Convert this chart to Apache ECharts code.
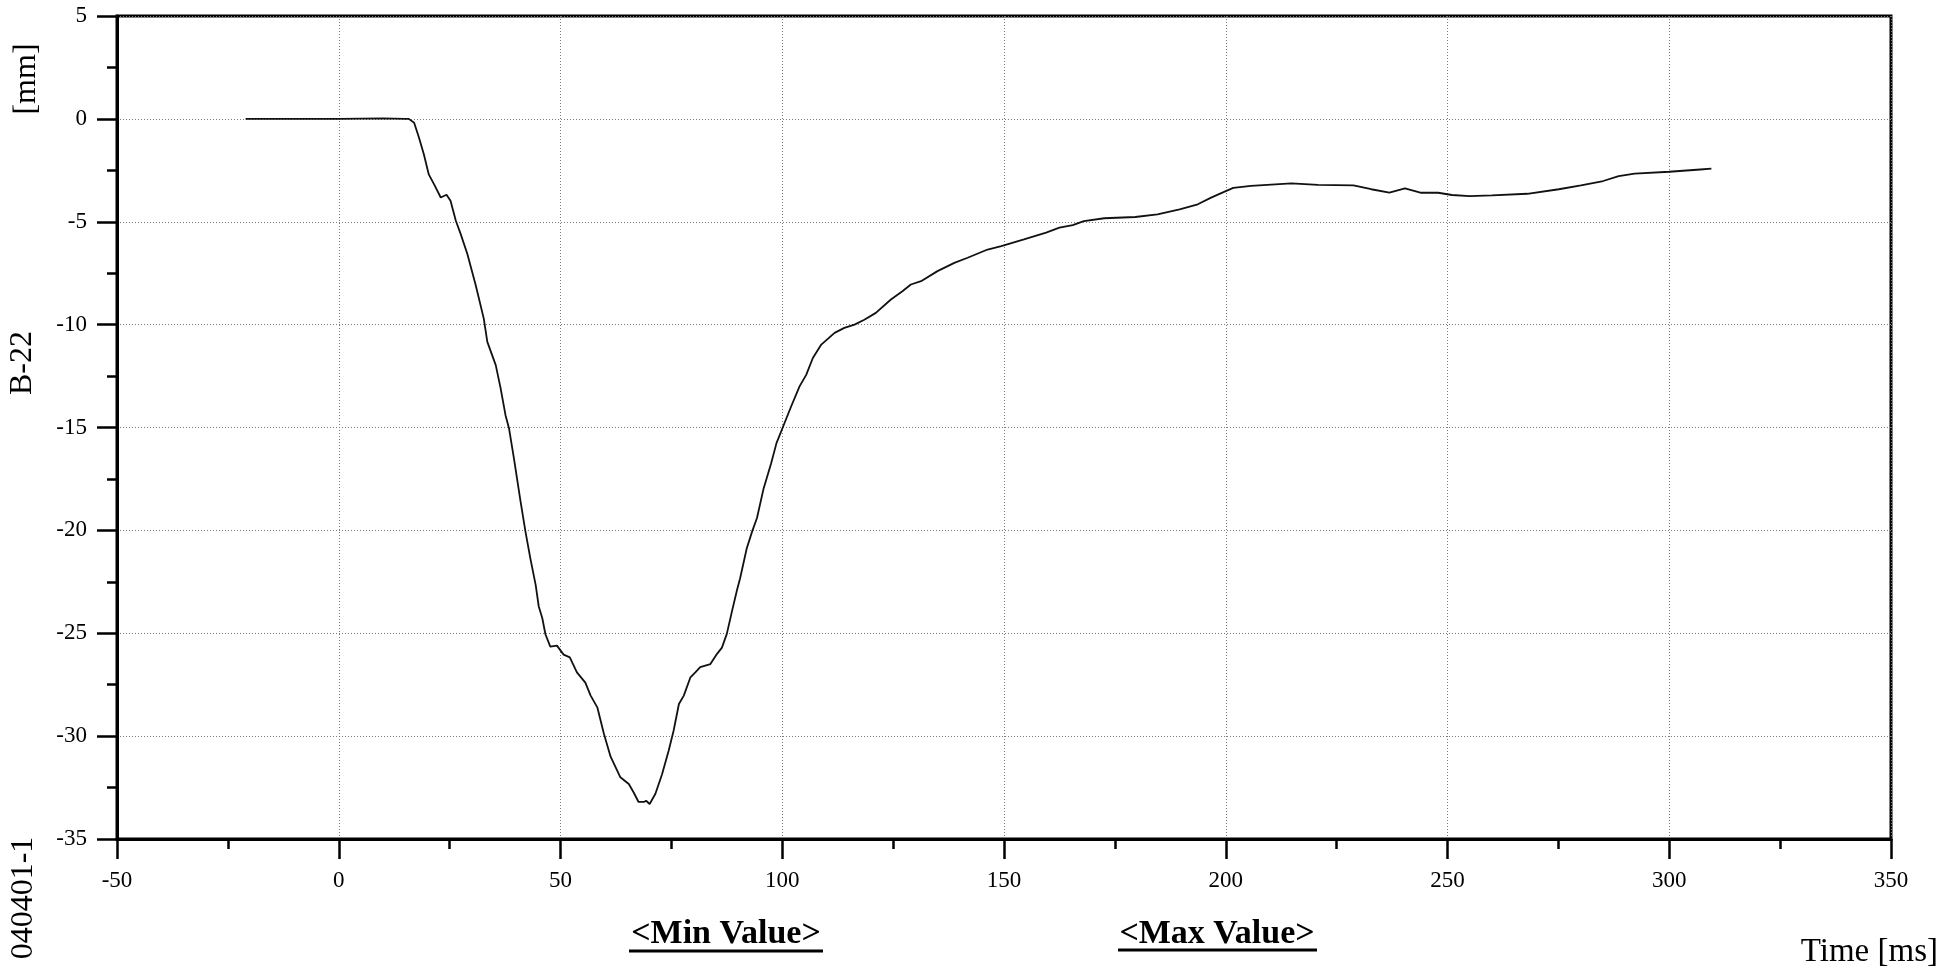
<!DOCTYPE html>
<html>
<head>
<meta charset="utf-8">
<script src="https://cdn.jsdelivr.net/npm/echarts@6/dist/echarts.min.js"></script>
<style>
html,body{margin:0;padding:0;background:#fff;}
#chart{width:1942px;height:969px;}
</style>
</head>
<body>
<div id="chart"></div>
<script>
// Time [ms]
const times = [-21, -10, 0, 10, 15, 15.8, 17.0, 18.1, 19.2, 20.3, 21.5, 23.0, 24.3, 25.2, 26.4, 27.5, 29.0, 30.9,
  32.7, 33.5, 35.4, 36.5, 37.6, 38.4, 39.5, 41.0, 42.1, 43.2, 44.4, 45.1, 45.9, 46.6, 47.7, 49.2, 50.7, 52.1,
  53.7, 55.6, 56.8, 58.3, 59.8, 61.3, 63.5, 65.4, 66.5, 67.6, 68.8, 69.3, 70.1, 71.4, 72.9, 74.4, 75.5, 76.7,
  77.8, 79.3, 80.4, 81.5, 83.8, 85.3, 86.4, 87.5, 88.7, 89.8, 90.5, 92.0, 93.2, 94.3, 95.8, 97.5, 98.7, 100.2,
  102.0, 103.9, 105.4, 106.9, 108.8, 111.8, 114.0, 116.3, 118.5, 121.1, 124.5, 127.1, 129.0, 131.3, 135.0,
  138.8, 141.8, 146.3, 149.4, 154.5, 159.5, 162.5, 165.5, 168.0, 172.6, 179.6, 184.6, 189.6, 193.7, 196.7,
  200.0, 201.7, 205.7, 214.8, 220.8, 228.8, 232.8, 236.9, 240.4, 243.9, 247.9, 251.0, 255.0, 260.0, 268.0,
  275.1, 280.1, 285.1, 288.6, 292.2, 300.0, 307.0, 309.5];
// Displacement [mm]
const values = [0, 0, 0, 0.02, 0, 0, -0.19, -0.92, -1.73, -2.7, -3.18, -3.82, -3.69, -3.98, -4.95, -5.6, -6.57, -8.1,
  -9.71, -10.84, -11.97, -13.1, -14.4, -15.05, -16.5, -18.6, -20.06, -21.36, -22.65, -23.7, -24.27, -25.05, -25.65, -25.6, -26.04, -26.17,
  -26.9, -27.4, -28.03, -28.6, -29.9, -31.0, -32.0, -32.33, -32.74, -33.2, -33.2, -33.14, -33.3, -32.8, -31.85, -30.7, -29.74, -28.44,
  -28.03, -27.14, -26.9, -26.65, -26.5, -26.0, -25.7, -25.03, -23.9, -22.9, -22.33, -20.87, -20.06, -19.4, -17.96, -16.74, -15.76, -14.95,
  -13.98, -13.0, -12.44, -11.62, -10.97, -10.4, -10.16, -10.0, -9.76, -9.43, -8.78, -8.38, -8.05, -7.89, -7.4,
  -7.0, -6.75, -6.35, -6.18, -5.86, -5.53, -5.29, -5.16, -4.97, -4.83, -4.77, -4.64, -4.40, -4.15, -3.83,
  -3.51, -3.35, -3.26, -3.13, -3.21, -3.23, -3.42, -3.59, -3.38, -3.59, -3.59, -3.7, -3.75, -3.72, -3.64,
  -3.42, -3.23, -3.02, -2.78, -2.66, -2.57, -2.46, -2.42];

const xRange = [-50, 350, 50];
const yRange = [-35, 5, 5];
const yTitle = '[mm]';
const channel = 'B-22';
const testId = '040401-1';
const xTitle = 'Time [ms]';
const minLabel = '<Min Value>';
const maxLabel = '<Max Value>';

const data = times.map((t, i) => [t, values[i]]);
const serif = '"Liberation Serif", "Times New Roman", serif';

function axisCommon() {
  return {
    axisLine: { show: true, onZero: false, lineStyle: { color: '#000', width: 3 } },
    axisTick: { show: true, length: 20, lineStyle: { color: '#000', width: 2.5 } },
    minorTick: { show: true, splitNumber: 2, length: 10, lineStyle: { color: '#000', width: 2.5 } },
    splitLine: { show: true, lineStyle: { color: '#7a7a7a', width: 1, type: [1, 2] } },
    minorSplitLine: { show: false }
  };
}

const chart = echarts.init(document.getElementById('chart'), null, { renderer: 'canvas' });
chart.setOption({
  backgroundColor: '#fff',
  animation: false,
  grid: { left: 117, right: 51, top: 16, bottom: 130, show: true, borderColor: '#000', borderWidth: 3, backgroundColor: 'transparent' },
  xAxis: Object.assign({
    type: 'value', min: xRange[0], max: xRange[1], interval: xRange[2],
    axisLabel: { color: '#000', fontFamily: serif, fontSize: 23, margin: 30 }
  }, axisCommon()),
  yAxis: Object.assign({
    type: 'value', min: yRange[0], max: yRange[1], interval: yRange[2],
    axisLabel: { color: '#000', fontFamily: serif, fontSize: 23, margin: 30 }
  }, axisCommon()),
  series: [{
    type: 'line', data: data, showSymbol: false, smooth: false,
    lineStyle: { color: '#111', width: 1.8 }, z: 3
  }],
  graphic: [
    { type: 'text', x: 27, y: 79, rotation: Math.PI / 2, style: { text: yTitle, font: '32px ' + serif, fill: '#000', textAlign: 'center', textVerticalAlign: 'middle' } },
    { type: 'text', x: 23, y: 363, rotation: Math.PI / 2, style: { text: channel, font: '32px ' + serif, fill: '#000', textAlign: 'center', textVerticalAlign: 'middle' } },
    { type: 'text', x: 24, y: 898, rotation: Math.PI / 2, style: { text: testId, font: '32px ' + serif, fill: '#000', textAlign: 'center', textVerticalAlign: 'middle' } },
    { type: 'text', x: 1938, y: 952, style: { text: xTitle, font: '33px ' + serif, fill: '#000', textAlign: 'right', textVerticalAlign: 'middle' } },
    { type: 'text', x: 726, y: 934, style: { text: minLabel, font: 'bold 34px ' + serif, fill: '#000', textAlign: 'center', textVerticalAlign: 'middle' } },
    { type: 'line', shape: { x1: 629, y1: 951, x2: 823, y2: 951 }, style: { stroke: '#000', lineWidth: 3 } },
    { type: 'text', x: 1217, y: 934, style: { text: maxLabel, font: 'bold 34px ' + serif, fill: '#000', textAlign: 'center', textVerticalAlign: 'middle' } },
    { type: 'line', shape: { x1: 1118, y1: 950, x2: 1317, y2: 950 }, style: { stroke: '#000', lineWidth: 3 } }
  ]
});
</script>
</body>
</html>
